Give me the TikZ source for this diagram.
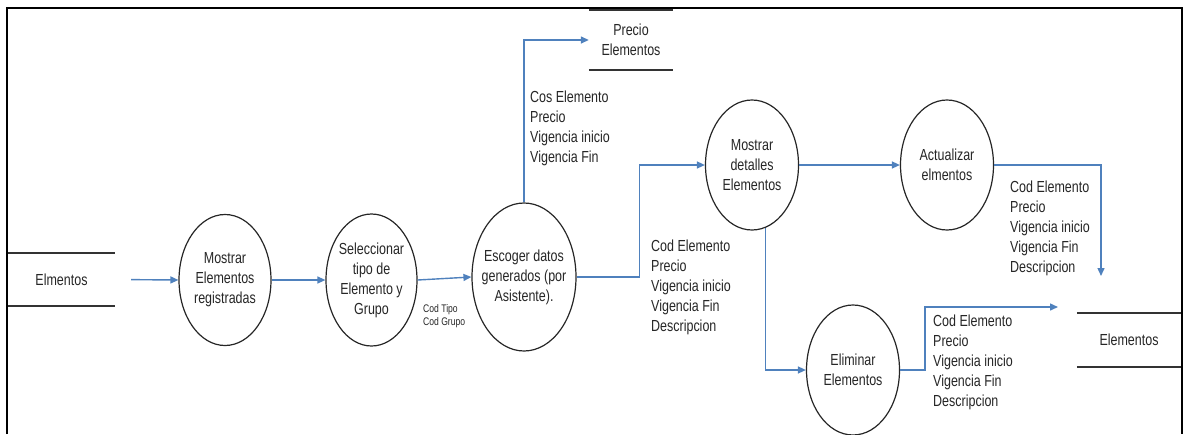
\documentclass[tikz,border=0pt]{standalone}
\usepackage{fontspec}
\setmainfont{Liberation Sans}[FakeStretch=0.78]
\usetikzlibrary{shapes.geometric,arrows.meta}
\definecolor{flowblue}{RGB}{79,129,189}
\begin{document}
\begin{tikzpicture}[x=1pt,y=-1pt,
  txt/.style={font=\fontsize{16}{20}\selectfont, inner sep=0pt, text=black!85},
  small/.style={font=\fontsize{11}{13}\selectfont, inner sep=0pt, text=black!85},
  proc/.style={draw=black!85, ellipse, line width=1.2pt, inner sep=0pt},
  store/.style={txt, align=center, rectangle},
  storeline/.style={draw=black!80, line width=2pt},
  flow/.style={draw=flowblue, line width=1.4pt,
    -{Triangle[length=8pt,width=7pt]}},
  datalist/.style={txt, align=left, anchor=west}
]
\useasboundingbox (0,0) rectangle (1190,434);

% outer frame, open at the bottom
\draw[line width=2.6pt] (7,434) -- (7,8) -- (1182,8) -- (1182,434);

% data stores
\node[store, minimum width=107pt, minimum height=53pt] (s1) at (61.5,279.5) {Elmentos};
\node[store, minimum width=84pt, minimum height=60pt] (s2) at (631,40) {Precio\\Elementos};
\node[store, minimum width=104pt, minimum height=54pt] (s3) at (1129,340) {Elementos};
\foreach \s in {s1,s2,s3}
  \draw[storeline] (\s.north west) -- (\s.north east) (\s.south west) -- (\s.south east);

% processes
\node[proc, minimum width=92pt, minimum height=131pt,
  label={[txt,align=center]center:{Mostrar\\Elementos\\registradas}}] (p1) at (225,280) {};
\node[proc, minimum width=91pt, minimum height=132pt,
  label={[txt,align=center]center:{Seleccionar\\tipo de\\Elemento y\\Grupo}}] (p2) at (371.5,280) {};
\node[proc, minimum width=104pt, minimum height=148pt,
  label={[txt,align=center]center:{Escoger datos\\generados (por\\Asistente).}}] (p3) at (524,277) {};
\node[proc, minimum width=93pt, minimum height=130pt,
  label={[txt,align=center]center:{Mostrar\\detalles\\Elementos}}] (p4) at (752,165) {};
\node[proc, minimum width=93pt, minimum height=130pt,
  label={[txt,align=center]center:{Actualizar\\elmentos}}] (p5) at (947,165) {};
\node[proc, minimum width=93pt, minimum height=130pt,
  label={[txt,align=center]center:{Eliminar\\Elementos}}] (p6) at (853,370) {};

% free arrow ends next to the Elementos store
\coordinate (e5) at (1101,276);
\coordinate (e6) at (1058,307);

% data flows
\draw[flow, shorten <=16pt] (s1.east) -- (p1.west);
\draw[flow] (p1.east) -- (p2.west);
\draw[flow] (p2.east) -- (p3.west);
\draw[flow] (p3.north) |- (s2.west);
\draw[flow] (p3.east) -- ++(63,0) |- (p4.west);
\draw[flow] (p4.east) -- (p5.west);
\draw[flow] (p5.east) -| (e5);
\draw[flow] (p4.-78) |- (p6.west);
\draw[flow] (p6.east) -- ++(25,0) |- (e6);

% flow contents
\node[small, align=left, anchor=west] (lt) at (423,316.5) {Cod Tipo\\Cod Grupo};
\node[datalist] (l1) at (530,128.5) {Cos Elemento\\Precio\\Vigencia inicio\\Vigencia Fin};
\node[datalist] (l2) at (651,287) {Cod Elemento\\Precio\\Vigencia inicio\\Vigencia Fin\\Descripcion};
\node[datalist] (l3) at (1010,228) {Cod Elemento\\Precio\\Vigencia inicio\\Vigencia Fin\\Descripcion};
\node[datalist] (l4) at (933,362) {Cod Elemento\\Precio\\Vigencia inicio\\Vigencia Fin\\Descripcion};
\end{tikzpicture}
\end{document}
